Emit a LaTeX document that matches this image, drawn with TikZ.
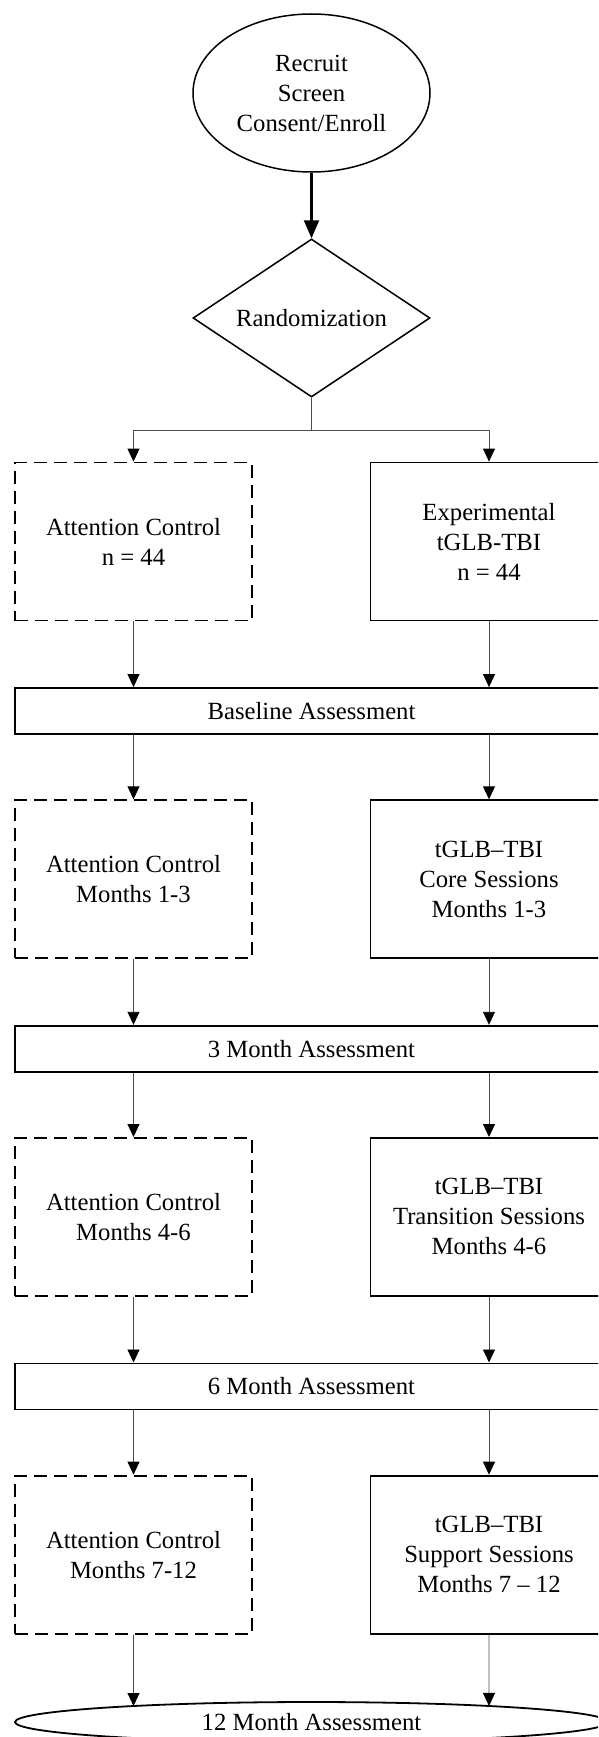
\documentclass[tikz,border=0pt]{standalone}
\usepackage{fontspec}
\setmainfont{Liberation Serif}
\usetikzlibrary{shapes.geometric,arrows.meta,intersections}
\begin{document}
\begin{tikzpicture}[x=1pt,y=-1pt,
  txt/.style={font=\fontsize{24.7}{30}\selectfont, align=center, text=black},
  box/.style={txt, draw, line width=1.8pt, minimum width=237pt, minimum height=158pt, inner sep=0pt},
  dbox/.style={box, dash pattern=on 13pt off 7pt},
  abox/.style={txt, draw, line width=1.8pt, minimum width=593pt, minimum height=46pt, inner sep=0pt},
  conn/.style={draw=black!70, line width=0.9pt, -{Triangle[length=13pt,width=12pt,black]}},
  thick arrow/.style={draw=black, line width=2.2pt, -{Triangle[length=18pt,width=15pt]}}
]
\useasboundingbox (0,0) rectangle (598,1737);
\clip (0,0) rectangle (598,1737);

\node[ellipse, draw, line width=1.5pt, minimum width=237pt, minimum height=158pt, inner sep=0pt, txt] (rec) at (311.5,93) {Recruit\\Screen\\Consent/Enroll};
\node[diamond, draw, line width=1.5pt, shape aspect=1.5, minimum width=237pt, minimum height=158pt, inner sep=0pt, txt] (rand) at (311.5,318) {Randomization};
\coordinate (split) at (311.5,430);

\node[dbox] (a1) at (133.5,541.5) {Attention Control\\n = 44};
\node[box]  (e1) at (489,541.5) {Experimental\\tGLB-TBI\\n = 44};
\node[abox] (s1) at (311.5,711) {Baseline Assessment};

\node[dbox] (a2) at (133.5,879.2) {Attention Control\\Months 1-3};
\node[box]  (e2) at (489,879.2) {tGLB–TBI\\Core Sessions\\Months 1-3};
\node[abox] (s2) at (311.5,1048.7) {3 Month Assessment};

\node[dbox] (a3) at (133.5,1216.9) {Attention Control\\Months 4-6};
\node[box]  (e3) at (489,1216.9) {tGLB–TBI\\Transition Sessions\\Months 4-6};
\node[abox] (s3) at (311.5,1386.4) {6 Month Assessment};

\node[dbox] (a4) at (133.5,1554.6) {Attention Control\\Months 7-12};
\node[box]  (e4) at (489,1554.6) {tGLB–TBI\\Support Sessions\\Months 7 – 12};

\node[ellipse, draw, line width=1.8pt, minimum width=593pt, minimum height=40pt, inner sep=0pt, txt, name path=finp] (fin) at (311.5,1722) {12 Month Assessment};

\draw[thick arrow] (rec.south) -- (rand.north);
\draw[conn] (rand.south) -- (split) -| (a1.north);
\draw[conn] (split) -| (e1.north);

\draw[conn] (a1.south) -- (a1.south |- s1.north);
\draw[conn] (e1.south) -- (e1.south |- s1.north);
\draw[conn] (a1.south |- s1.south) -- (a2.north);
\draw[conn] (e1.south |- s1.south) -- (e2.north);

\draw[conn] (a2.south) -- (a2.south |- s2.north);
\draw[conn] (e2.south) -- (e2.south |- s2.north);
\draw[conn] (a2.south |- s2.south) -- (a3.north);
\draw[conn] (e2.south |- s2.south) -- (e3.north);

\draw[conn] (a3.south) -- (a3.south |- s3.north);
\draw[conn] (e3.south) -- (e3.south |- s3.north);
\draw[conn] (a3.south |- s3.south) -- (a4.north);
\draw[conn] (e3.south |- s3.south) -- (e4.north);

\path[name path=la] (a4.south) -- ++(0,150);
\path[name path=le] (e4.south) -- ++(0,150);
\draw[conn, name intersections={of=finp and la, by={ia}}] (a4.south) -- (ia);
\draw[conn, name intersections={of=finp and le, by={ie}}] (e4.south) -- (ie);
\end{tikzpicture}
\end{document}
